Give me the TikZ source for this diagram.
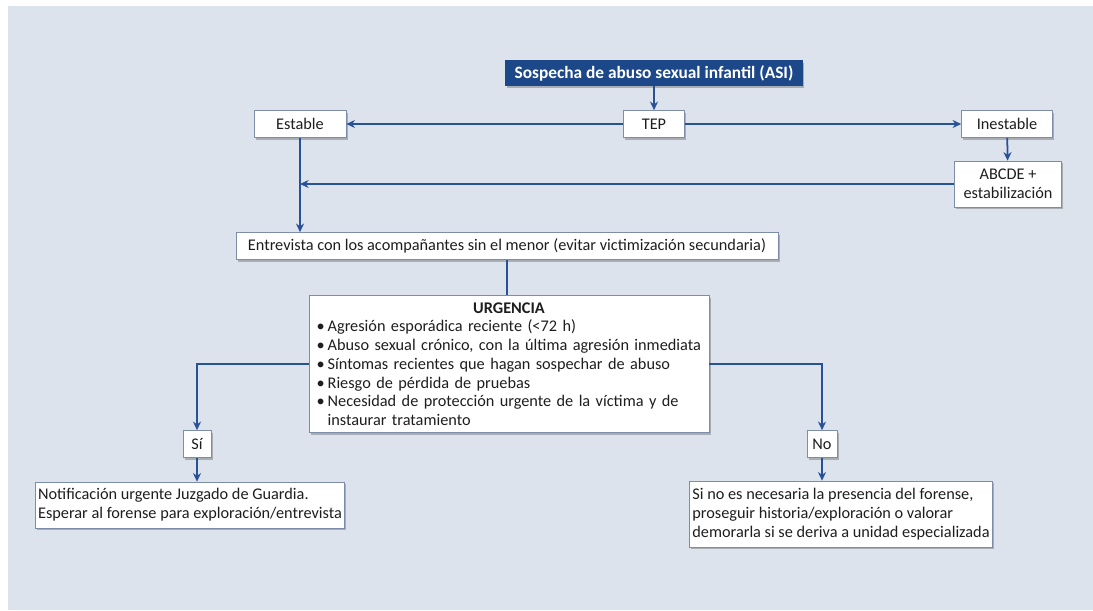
\documentclass[tikz,border=0pt]{standalone}
\usepackage{fontspec}
\setmainfont{Carlito}
\usetikzlibrary{arrows.meta,shadows}
\definecolor{panelgray}{RGB}{220,227,237}
\definecolor{flowblue}{RGB}{40,82,150}
\definecolor{asiblue}{RGB}{28,72,138}
\definecolor{boxgray}{RGB}{125,140,168}
\definecolor{inkgray}{RGB}{30,30,30}
\newcommand{\urgitem}[1]{\par\hangindent=3.3mm\hangafter=1\noindent\makebox[3.3mm][l]{\textbullet}#1\par}
\newcommand{\flowfont}{\fontsize{13.9}{16}\selectfont\hyphenpenalty=10000\exhyphenpenalty=10000}

\begin{document}
\begin{tikzpicture}[x=0.3mm, y=-0.3mm,
    font=\flowfont,
    box/.style={draw=boxgray, line width=0.5pt, fill=white, text=inkgray, inner sep=1.2mm,
      drop shadow={shadow xshift=0.5mm, shadow yshift=-0.6mm, opacity=0.35, fill=black!70}},
    asibox/.style={box, draw=asiblue, fill=asiblue, text=white, font=\fontsize{14.8}{16}\selectfont\bfseries},
    link/.style={draw=flowblue, line width=1.5pt},
    arr/.style={link, -{Stealth[length=2.6mm, width=2.4mm]}}]
    % Panel
    \useasboundingbox (0,0) rectangle (1093,610);
    \fill[white] (0,0) rectangle (1093,610);
    \fill[panelgray] (8,6) rectangle (1093,610);

    % Top row
    \node[asibox, minimum width=89.1mm, minimum height=7.5mm] (asi) at (654,73) {Sospecha de abuso sexual infantil (ASI)};
    \node[box, minimum width=18.3mm, minimum height=8.1mm] (tep) at (654,124) {TEP};
    \node[box, minimum width=27.6mm, minimum height=8.1mm] (estable) at (300,124) {Estable};
    \node[box, minimum width=27.3mm, minimum height=8.1mm] (inestable) at (1007,124) {Inestable};
    \node[box, minimum width=32.1mm, minimum height=13.8mm, align=center] (abcde) at (1008,184) {ABCDE +\\estabilización};

    % Interview and urgency
    \node[box, minimum width=162.6mm, minimum height=8.1mm, inner sep=0.6mm] (entrevista) at (507,246) {Entrevista con los acompañantes sin el menor (evitar victimización secundaria)};
    \node[box, text width=115.4mm, inner xsep=2.3mm, inner ysep=1.5mm, minimum height=41.1mm, align=left] (urg) at (509,364) {%
      {\centering\textbf{URGENCIA}\par}
      \urgitem{Agresión esporádica reciente (<72 h)}
      \urgitem{Abuso sexual crónico, con la última agresión inmediata}
      \urgitem{Síntomas recientes que hagan sospechar de abuso}
      \urgitem{Riesgo de pérdida de pruebas}
      \urgitem{Necesidad de protección urgente de la víctima y de\newline instaurar tratamiento}};

    % Answers
    \node[box, minimum width=8.4mm, minimum height=8.1mm, inner sep=0.8mm] (si) at (197,444) {Sí};
    \node[box, minimum width=9mm, minimum height=8.1mm, inner sep=0.8mm] (no) at (822,444) {No};
    \node[box, minimum width=92.7mm, minimum height=13.8mm, inner sep=0.8mm, align=left] (notif) at (190,505) {Notificación urgente Juzgado de Guardia.\\Esperar al forense para exploración/entrevista};
    \node[box, minimum width=89.4mm, minimum height=19.8mm, inner sep=0.8mm, align=left] (sino) at (841,514) {Si no es necesaria la presencia del forense,\\proseguir historia/exploración o valorar\\demorarla si se deriva a unidad especializada};

    % Connectors
    \draw[arr] (asi) -- (tep);
    \draw[arr] (tep) -- (estable);
    \draw[arr] (tep) -- (inestable);
    \draw[arr] (inestable) -- (abcde);
    \draw[arr] (estable) -- (estable |- entrevista.north);
    \draw[arr] (abcde) -- (estable.south |- abcde.west);
    \draw[link] (entrevista.south) -- (entrevista.south |- urg.north);
    \draw[arr] (urg.west) -| (si);
    \draw[arr] (urg.east) -| (no);
    \draw[arr] (si) -- (si |- notif.north);
    \draw[arr] (no) -- (no |- sino.north);
\end{tikzpicture}
\end{document}
